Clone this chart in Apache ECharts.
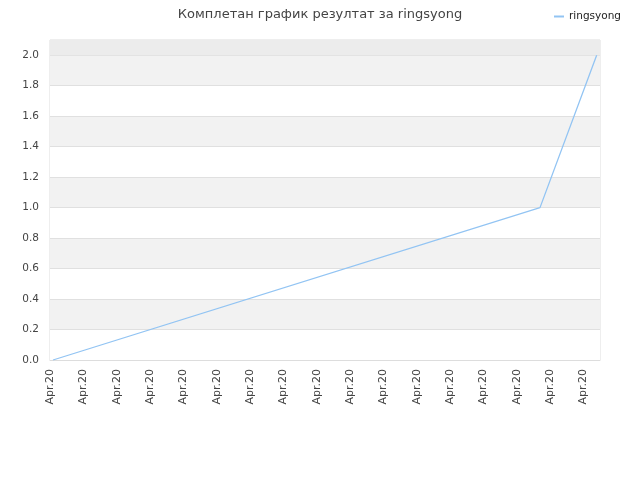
<!DOCTYPE html>
<html><head><meta charset="utf-8">
<script src="https://cdn.jsdelivr.net/npm/echarts@6/dist/echarts.min.js"></script>
<style>html,body{margin:0;padding:0;background:#fff}#c{width:640px;height:480px}</style>
</head><body><div id="c"></div>
<script>
var titleText = 'Комплетан график резултат за ringsyong';
var seriesName = 'ringsyong';
var xTickLabel = 'Apr.20';
var xValues = [0.18, 29.4, 32.8];
var yValues = [0, 1.0, 2.0];

var chart = echarts.init(document.getElementById('c'));
chart.setOption({
  animation: false,
  backgroundColor: '#fff',
  title: { text: titleText, left: 'center', top: 3,
    textStyle: { fontFamily: 'DejaVu Sans', fontSize: 13, fontWeight: 'normal', color: '#444' } },
  legend: { right: 14, top: 6, icon: 'rect', itemWidth: 10, itemHeight: 2, itemGap: 5,
    textStyle: { fontFamily: 'DejaVu Sans', fontSize: 10.5, color: '#222' }, data: [seriesName] },
  grid: { left: 50, right: 40, top: 40, bottom: 120, show: true, borderColor: '#ddd', borderWidth: 1 },
  xAxis: { type: 'value', min: 0, max: 33, interval: 2,
    axisLine: { show: true, lineStyle: { color: '#ddd' } },
    axisTick: { show: false }, splitLine: { show: false },
    axisLabel: { rotate: 90, showMaxLabel: false, color: '#444', fontFamily: 'DejaVu Sans', fontSize: 11, margin: 9,
      formatter: function () { return xTickLabel; } } },
  yAxis: { type: 'value', min: 0, max: 2.1, interval: 0.2,
    axisLine: { show: false }, axisTick: { show: false },
    axisLabel: { showMaxLabel: false, color: '#444', fontFamily: 'DejaVu Sans', fontSize: 10.5, margin: 11,
      formatter: function (v) { return v.toFixed(1); } },
    splitLine: { show: true, lineStyle: { color: '#e0e0e0' } },
    splitArea: { show: true, areaStyle: { color: ['#ffffff', '#f2f2f2'] } } },
  series: [{
    name: seriesName, type: 'line', symbol: 'none',
    lineStyle: { color: '#92c4f3', width: 1.3 }, itemStyle: { color: '#92c4f3' },
    data: xValues.map(function (x, i) { return [x, yValues[i]]; }),
    markArea: { silent: true, itemStyle: { color: '#ececec' }, data: [[{ yAxis: 2.0 }, { yAxis: 2.1 }]] }
  }]
});
</script></body></html>
